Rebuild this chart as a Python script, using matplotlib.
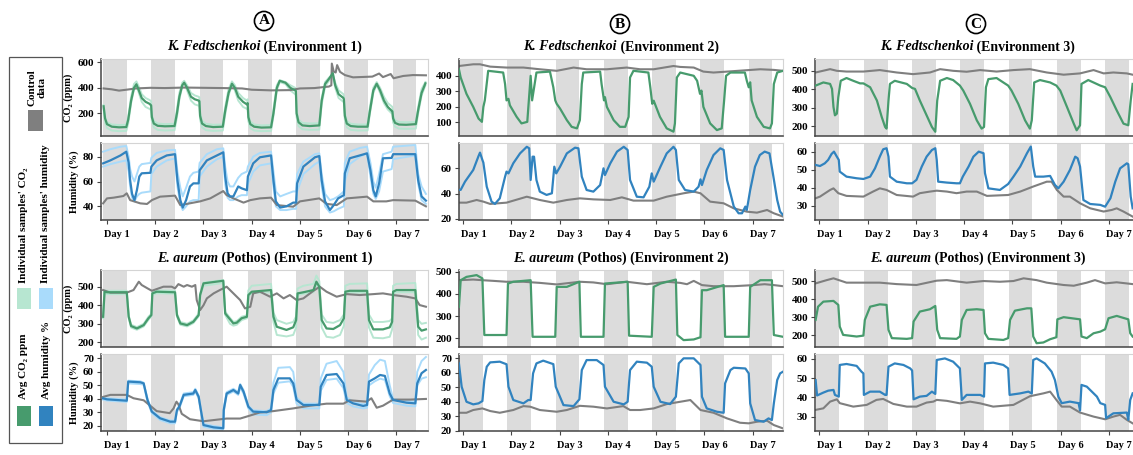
import matplotlib
matplotlib.use("Agg")
import matplotlib.pyplot as plt
import matplotlib.transforms as mtransforms
from matplotlib.patches import Rectangle

plt.rcParams['font.family'] = ['Liberation Serif', 'DejaVu Serif']
plt.rcParams['font.weight'] = 'bold'
plt.rcParams['axes.labelweight'] = 'bold'

GREEN = '#479b6d'
GREEN_LIGHT = '#b7e6d1'
BLUE = '#3183bf'
BLUE_LIGHT = '#a9dbfb'
GREY = '#7f7f7f'
BAND = '#dcdcdc'

day_labels = ['Day 1', 'Day 2', 'Day 3', 'Day 4', 'Day 5', 'Day 6', 'Day 7']

# ---------- K. Fedtschenkoi, environment 1 ----------
kf1_co2_t = [-0.07, -0.04, 0.0, 0.1, 0.25, 0.40, 0.44, 0.50, 0.56, 0.61, 0.66, 0.72, 0.80, 0.88, 0.915,
             0.93, 0.97, 1.05, 1.2, 1.40, 1.45, 1.50, 1.56, 1.60, 1.66, 1.74, 1.82, 1.90, 1.915,
             1.93, 1.97, 2.05, 2.2, 2.40, 2.45, 2.52, 2.59, 2.65, 2.72, 2.82, 2.90, 2.915,
             2.93, 2.97, 3.05, 3.2, 3.40, 3.45, 3.52, 3.58, 3.70, 3.80, 3.90, 3.915,
             3.93, 3.97, 4.05, 4.2, 4.40, 4.45, 4.52, 4.60, 4.68, 4.73, 4.80, 4.90, 4.91,
             4.93, 4.97, 5.05, 5.2, 5.40, 5.45, 5.52, 5.59, 5.66, 5.74, 5.82, 5.90, 5.915,
             5.93, 5.97, 6.05, 6.2, 6.40, 6.45, 6.52, 6.60]
kf1_co2_avg = [255, 160, 115, 95, 90, 92, 150, 300, 400, 428, 380, 320, 290, 275, 262,
               170, 120, 102, 98, 100, 200, 330, 420, 440, 400, 330, 310, 300, 295,
               180, 120, 100, 92, 95, 220, 360, 432, 400, 330, 290, 270, 280,
               170, 115, 95, 88, 90, 200, 400, 455, 440, 400, 380, 375,
               200, 130, 105, 100, 105, 300, 430, 470, 515, 420, 350, 320, 310,
               180, 120, 100, 95, 95, 220, 380, 432, 380, 300, 250, 220, 215,
               160, 125, 112, 110, 115, 226, 360, 435]
kf1_co2_s1 = [240, 130, 85, 65, 60, 62, 120, 280, 390, 420, 360, 290, 250, 235, 225,
              140, 90, 70, 65, 68, 170, 310, 410, 445, 380, 300, 270, 260, 255,
              150, 90, 68, 62, 65, 190, 340, 425, 380, 300, 250, 235, 240,
              140, 85, 65, 60, 62, 180, 380, 445, 430, 380, 350, 345,
              170, 100, 75, 70, 72, 270, 410, 455, 500, 400, 320, 290, 285,
              150, 90, 70, 65, 66, 200, 360, 425, 360, 280, 230, 200, 195,
              130, 95, 80, 78, 80, 200, 340, 420]
kf1_co2_s2 = [265, 175, 130, 112, 108, 110, 170, 330, 430, 450, 410, 350, 320, 305, 295,
              190, 140, 120, 115, 118, 230, 360, 440, 455, 420, 360, 340, 330, 325,
              200, 140, 118, 110, 112, 250, 390, 450, 420, 360, 320, 300, 310,
              190, 135, 112, 105, 108, 230, 420, 460, 445, 420, 400, 395,
              220, 150, 125, 120, 122, 320, 445, 480, 505, 440, 380, 350, 340,
              200, 140, 118, 112, 112, 250, 400, 445, 400, 330, 280, 255, 250,
              180, 145, 132, 130, 132, 250, 390, 445]
kf1_co2_ctrl_t = [-0.07, 0.1, 0.25, 0.4, 0.6, 0.9, 1.2, 1.6, 2.0, 2.4, 2.8, 3.0, 3.4, 3.8, 4.0, 4.3,
                  4.6, 4.65, 4.66, 4.70, 4.74, 4.77, 4.83, 4.93, 5.10, 5.50, 5.64, 5.72, 5.88, 5.94,
                  6.14, 6.34, 6.61]
kf1_co2_ctrl = [395, 388, 378, 385, 395, 400, 398, 402, 400, 398, 395, 385, 380, 382, 395, 398,
                410, 420, 590, 527, 520, 578, 525, 500, 482, 488, 512, 484, 508, 475,
                493, 500, 498]

kf1_hum_t = [-0.08, 0.07, 0.28, 0.40, 0.45, 0.48, 0.52, 0.57, 0.62, 0.67, 0.72, 0.90,
             0.92, 1.03, 1.24, 1.41, 1.46, 1.52, 1.57, 1.64, 1.72, 1.79, 1.90,
             1.92, 2.07, 2.28, 2.41, 2.45, 2.50, 2.55, 2.62, 2.72, 2.79, 2.90,
             2.92, 3.03, 3.17, 3.40, 3.45, 3.50, 3.59, 3.72, 3.86, 3.92,
             3.94, 4.07, 4.31, 4.40, 4.45, 4.52, 4.62, 4.70, 4.79, 4.91,
             4.93, 5.03, 5.24, 5.39, 5.46, 5.52, 5.57, 5.64, 5.72, 5.90,
             5.93, 6.39, 6.45, 6.52, 6.61]
kf1_hum_avg = [74.6, 77, 81, 84, 75, 61, 50, 45, 53, 64, 66.6, 67,
               72, 77, 81, 82, 61, 45, 39, 45, 56, 58.5, 58.5,
               69, 77, 81, 83.5, 64, 50.5, 48, 48, 56, 54.5, 53,
               64, 74.6, 79.5, 81, 61, 44, 39, 40, 43, 43,
               58.5, 72, 79.5, 80.5, 61, 44, 37, 41, 46.4, 49,
               66.6, 78.7, 81, 82.7, 69, 53, 48, 58.5, 78.7, 79,
               82, 82, 61, 48, 44.6]
kf1_hum_s1 = [84, 86, 88, 88.6, 80, 70, 64, 60, 66, 72, 74, 75,
              79, 83, 85, 85.5, 68, 55, 48, 55, 64, 67, 68,
              75, 82, 86, 86.7, 72, 60, 56, 56, 63, 66, 68,
              72, 80, 83, 84, 68, 52, 48, 50, 52, 52,
              66, 76, 82, 82.7, 66, 50, 45, 46, 48, 52,
              75, 84, 87, 88, 75, 60, 55, 66, 82, 84,
              88, 89.4, 66, 56, 50]
kf1_hum_s2 = [72, 74, 76, 77, 68, 56, 47, 44, 48, 50, 51, 52,
              66, 72, 77, 78.6, 56, 42, 37, 40, 44, 45, 45,
              64, 72, 78, 80, 58, 47, 45, 45, 48, 49, 49,
              58, 68, 73, 74.6, 56, 40, 37, 37, 38, 38,
              52, 66, 74, 76, 56, 40, 35, 36, 38, 40,
              60, 74, 80, 82.7, 64, 50, 46, 52, 68, 70,
              78, 81, 58, 45, 42]
kf1_hum_ctrl_t = [-0.08, 0.0, 0.14, 0.34, 0.41, 0.48, 0.69, 0.83, 0.93, 1.10, 1.41, 1.52, 1.66, 1.93,
                  2.14, 2.41, 2.48, 2.62, 2.83, 2.97, 3.17, 3.40, 3.52, 3.86, 4.0, 4.40, 4.55, 4.76,
                  4.97, 5.39, 5.52, 5.79, 5.93, 6.39, 6.61]
kf1_hum_ctrl = [42.4, 46.4, 47, 48.3, 50.5, 45, 42.4, 41.9, 45, 47.8, 48.6, 41, 42, 44,
                46.4, 52.3, 49, 46.4, 43, 45, 46.4, 47, 41, 39.7, 44, 46.4, 42, 41,
                46.4, 47.8, 44, 44, 45, 44.6, 40]

# ---------- E. aureum, environment 1 ----------
ea1_co2_t = [-0.08, -0.05, 0.0, 0.41, 0.45, 0.50, 0.62, 0.76, 0.86, 0.92,
             0.94, 1.03, 1.41, 1.45, 1.52, 1.66, 1.79, 1.90,
             1.93, 2.0, 2.41, 2.45, 2.55, 2.62, 2.69, 2.79, 2.90,
             2.93, 3.0, 3.40, 3.45, 3.52, 3.72, 3.86, 3.92,
             3.95, 4.07, 4.28, 4.34, 4.40, 4.45, 4.55, 4.69, 4.83, 4.91,
             4.94, 5.03, 5.39, 5.43, 5.52, 5.72, 5.86, 5.91,
             5.93, 6.0, 6.39, 6.45, 6.52, 6.61]
ea1_co2_avg = [338, 473, 470, 470, 338, 288, 275, 293, 330, 347,
               464, 473, 470, 347, 302, 293, 311, 347,
               455, 518, 532, 356, 324, 302, 306, 330, 338,
               455, 473, 482, 338, 284, 267, 281, 320,
               464, 470, 482, 527, 500, 320, 275, 272, 293, 330,
               473, 478, 478, 320, 270, 270, 281, 311,
               473, 482, 482, 284, 263, 270]
ea1_co2_s1 = [345, 480, 478, 478, 345, 295, 282, 300, 338, 355,
              470, 480, 478, 355, 310, 300, 318, 355,
              462, 522, 536, 365, 332, 310, 314, 338, 346,
              480, 505, 515, 360, 320, 300, 310, 340,
              490, 505, 515, 560, 530, 350, 310, 305, 320, 350,
              505, 515, 518, 350, 310, 310, 315, 330,
              505, 515, 520, 320, 300, 305]
ea1_co2_s2 = [330, 462, 460, 460, 330, 280, 268, 286, 322, 340,
              456, 465, 462, 340, 295, 286, 304, 340,
              448, 505, 520, 348, 300, 290, 295, 320, 330,
              448, 465, 470, 310, 240, 232, 240, 280,
              455, 462, 470, 515, 490, 280, 230, 225, 240, 290,
              462, 468, 468, 280, 225, 222, 230, 270,
              462, 470, 470, 240, 215, 225]
ea1_co2_ctrl_t = [-0.08, 0.07, 0.41, 0.55, 0.66, 0.72, 0.84, 0.93, 1.17, 1.34, 1.41, 1.48, 1.59,
                  1.66, 1.76, 1.83, 1.86, 1.93, 2.0, 2.07, 2.21, 2.34, 2.48, 2.62, 2.76, 2.86,
                  2.97, 3.03, 3.17, 3.38, 3.52, 3.66, 3.79, 3.93, 4.07, 4.28, 4.41, 4.55, 4.76,
                  4.97, 5.24, 5.52, 5.72, 5.93, 6.21, 6.39, 6.48, 6.61]
ea1_co2_ctrl = [482, 468, 468, 482, 527, 509, 491, 478, 500, 500, 491, 514, 500,
                509, 500, 509, 428, 374, 400, 437, 464, 482, 500, 464, 428, 383,
                392, 464, 473, 446, 464, 437, 455, 428, 437, 478, 500, 473, 446,
                460, 455, 460, 464, 455, 446, 437, 401, 392]

ea1_hum_t = [-0.08, 0.0, 0.41, 0.44, 0.69, 0.76, 0.84, 0.93, 1.10, 1.31, 1.41, 1.45, 1.50, 1.59,
             1.79, 1.83, 1.90, 1.94, 2.0, 2.21, 2.41, 2.42, 2.48, 2.62, 2.72, 2.76, 2.83, 2.93,
             3.03, 3.31, 3.40, 3.45, 3.55, 3.79, 3.86, 3.93, 4.07, 4.40, 4.43, 4.55, 4.76, 4.90,
             4.97, 5.10, 5.31, 5.39, 5.43, 5.55, 5.66, 5.76, 5.86, 5.93, 6.21, 6.39, 6.43, 6.52,
             6.61]
ea1_hum_avg = [40.4, 39.7, 38.7, 52.8, 52.3, 51.5, 39.2, 30.6, 25.7, 23.2, 23.2, 31.8, 34.3, 43,
               44, 46.6, 41.6, 33, 20.7, 19, 18.3, 31.8, 44, 46.6, 44, 50.3, 45.4, 34.3,
               30.6, 30.1, 31.8, 46.6, 55.2, 55.2, 51.5, 39.2, 35.5, 35.5, 49, 57.7, 58.4, 51.5,
               39.2, 36.7, 34.8, 35.5, 52.8, 55.2, 57.7, 57, 44, 39.2, 37.2, 36.7, 51.5, 59,
               61.4]
ea1_hum_s1 = [41, 40.5, 39.5, 53.5, 53, 52, 40, 31.5, 26.5, 24, 24, 32.5, 35, 44,
              45, 47.5, 42.5, 34, 21.5, 20, 19, 33, 45, 47.5, 45, 51, 46.5, 35,
              31.5, 31, 33, 52, 63, 63.5, 60, 41, 36.5, 36.5, 55, 66, 68, 60,
              41, 38, 36, 36.5, 58, 65, 69, 68, 50, 40, 38.5, 38, 60, 68,
              71]
ea1_hum_s2 = [39.5, 38.8, 37.8, 51.5, 51, 50.5, 38, 29.5, 24.5, 22, 22, 30.5, 33, 42,
              43, 45.5, 40.5, 32, 19.5, 18, 17.5, 30.5, 43, 45.5, 43, 48.5, 44, 33,
              28.5, 28, 30, 44, 52, 53, 49, 36.5, 33, 33, 46, 54, 55, 48,
              37, 34.5, 33, 33.5, 50, 53, 55, 54, 42, 37, 35, 34.5, 50, 55,
              56]
ea1_hum_ctrl_t = [-0.08, 0.07, 0.41, 0.55, 0.76, 0.93, 1.03, 1.30, 1.38, 1.44, 1.48, 1.55, 1.72,
                  2.0, 2.48, 2.76, 2.9, 3.17, 3.45, 3.86, 4.21, 4.55, 4.9, 5.03, 5.38, 5.48,
                  5.59, 5.72, 5.93, 6.28, 6.61]
ea1_hum_ctrl = [41.5, 43, 43, 40.5, 39, 34, 31, 29.5, 33, 38, 36, 29, 25,
                23.5, 25.5, 25.5, 27, 30, 31, 33, 35, 36.5, 36.5, 39, 38, 40.5,
                33.5, 35, 39.5, 39.5, 40]

# ---------- K. Fedtschenkoi, environment 2 ----------
kf2_co2_t = [-0.086, -0.05, 0.07, 0.21, 0.32, 0.39, 0.42, 0.45, 0.52, 0.83, 0.87, 0.90, 0.94, 0.97,
             1.11, 1.21, 1.33, 1.40, 1.43, 1.52,
             1.80, 1.87, 1.91, 1.94, 2.01, 2.15, 2.25, 2.36, 2.42, 2.46, 2.49,
             2.84, 2.87, 2.92, 2.94, 2.98, 3.12, 3.25, 3.36, 3.43, 3.46, 3.53,
             3.84, 3.88, 3.92, 3.95, 4.08, 4.22, 4.36, 4.39, 4.43, 4.50,
             4.78, 4.85, 4.91, 4.94, 4.98, 5.12, 5.26, 5.36, 5.41, 5.45, 5.54,
             5.84, 5.88, 5.92, 5.95, 5.98, 6.09, 6.23, 6.36, 6.40, 6.44, 6.51, 6.63]
kf2_co2_avg = [442, 389, 284, 200, 125, 104, 200, 242, 432, 421, 347, 242, 252, 210,
               136, 94, 104, 400, 242, 421,
               427, 326, 242, 220, 189, 115, 72, 62, 115, 347, 421,
               427, 347, 242, 263, 200, 115, 72, 72, 136, 389, 432,
               421, 326, 220, 240, 136, 62, 41, 94, 389, 421,
               400, 368, 284, 305, 200, 94, 51, 62, 242, 400, 421,
               421, 368, 326, 358, 242, 136, 72, 62, 94, 347, 421, 432]
kf2_co2_ctrl_t = [-0.086, 0.21, 0.35, 0.56, 0.90, 1.25, 1.59, 1.94, 2.29, 2.56, 2.98, 3.39,
                  3.67, 3.95, 4.36, 4.50, 4.78, 4.98, 5.19, 5.47, 5.88, 6.16, 6.44, 6.63]
kf2_co2_ctrl = [463, 474, 474, 459, 453, 453, 442, 432, 453, 442, 442, 453,
                442, 442, 463, 457, 453, 427, 421, 427, 436, 442, 438, 432]

kf2_hum_t = [-0.086, -0.05, 0.04, 0.21, 0.32, 0.35, 0.40, 0.42, 0.49, 0.59,
             0.66, 0.76, 0.87, 0.90, 0.94, 1.04, 1.18, 1.32, 1.37, 1.40,
             1.44, 1.47, 1.52, 1.59, 1.73, 1.84, 1.89, 1.93, 2.01, 2.15,
             2.32, 2.39, 2.46, 2.56, 2.70, 2.84, 2.91, 2.94, 3.05, 3.19,
             3.33, 3.41, 3.46, 3.60, 3.74, 3.86, 3.91, 3.95, 4.09, 4.22,
             4.36, 4.41, 4.47, 4.60, 4.78, 4.88, 4.92, 4.95, 5.05, 5.19,
             5.33, 5.40, 5.47, 5.61, 5.71, 5.78, 5.85, 5.88, 5.95, 6.05,
             6.15, 6.25, 6.35, 6.42, 6.51, 6.57, 6.63]
kf2_hum_avg = [43, 43, 49.5, 58.7, 69.7, 72.4, 66.6, 64.5, 45.5, 33.7,
               31.9, 36.3, 53.4, 57.4, 56, 64, 71.8, 77, 75.8, 50.8,
               69.2, 69.2, 50.8, 41.6, 39, 40.3, 61.3, 56, 61.3, 71.8,
               76.3, 75.8, 53.4, 42.9, 41.6, 46.8, 60, 54.7, 63.9, 73.2,
               77, 74.5, 50.8, 37.6, 37.1, 45.5, 56, 49.5, 61.3, 71.8,
               77, 74.5, 50.8, 42.9, 41.6, 45.5, 51.3, 46.8, 58.7, 70.5,
               75.8, 74.5, 50.8, 29.8, 24.5, 24.5, 29.8, 27.1, 42.9, 61.3,
               70.5, 73.2, 71.8, 56, 35, 25.8, 23.2]
kf2_hum_ctrl_t = [-0.086, 0.07, 0.28, 0.42, 0.56, 0.90, 1.32, 1.59, 1.87, 2.15, 2.42, 2.70, 3.05,
                  3.29, 3.53, 3.95, 4.22, 4.57, 4.78, 4.92, 5.12, 5.40, 5.61, 5.88, 6.09, 6.30,
                  6.44, 6.63]
kf2_hum_ctrl = [32.9, 32.9, 35, 33.7, 31.9, 32.9, 37.6, 35, 32.9, 35, 36.3, 35.5, 35,
                37.1, 34.5, 34.5, 37.6, 40.3, 41.6, 40.3, 33.7, 32.4, 28.4, 25.8, 25, 27.1,
                24.5, 21.9]

# ---------- E. aureum, environment 2 ----------
ea2_co2_t = [-0.086, -0.05, 0.07, 0.28, 0.40, 0.44, 0.56, 0.90, 0.93, 1.04, 1.40, 1.44, 1.91,
             1.94, 2.15, 2.41, 2.44, 2.91, 2.94, 3.41, 3.44, 3.91, 3.95, 4.09, 4.41, 4.44, 4.57,
             4.78, 4.92, 4.95, 5.05, 5.40, 5.43, 5.92, 5.95, 6.16, 6.40, 6.44, 6.63]
ea2_co2_avg = [342, 462, 477, 485, 470, 215, 215, 215, 447, 455, 462, 207, 207,
               432, 432, 455, 207, 207, 447, 455, 212, 207, 432, 447, 465, 215, 192,
               195, 205, 417, 417, 440, 207, 207, 432, 462, 462, 215, 207]
ea2_co2_ctrl_t = [-0.086, 0.21, 0.40, 0.63, 0.90, 1.25, 1.59, 1.94, 2.42, 2.70, 2.98, 3.39,
                  3.81, 4.22, 4.50, 4.64, 4.78, 4.95, 5.19, 5.61, 6.02, 6.25, 6.44, 6.63]
ea2_co2_ctrl = [462, 465, 462, 459, 455, 455, 450, 443, 455, 452, 444, 455,
                444, 455, 450, 444, 459, 440, 435, 435, 440, 444, 440, 435]

ea2_hum_t = [-0.086, -0.03, 0.07, 0.21, 0.32, 0.40, 0.44, 0.49, 0.56, 0.76,
             0.90, 0.94, 1.04, 1.25, 1.35, 1.40, 1.45, 1.52, 1.66, 1.87,
             1.92, 2.08, 2.29, 2.41, 2.46, 2.56, 2.77, 2.91, 2.94, 3.12,
             3.33, 3.41, 3.46, 3.60, 3.81, 3.91, 3.95, 4.09, 4.29, 4.41,
             4.47, 4.57, 4.78, 4.92, 4.95, 5.05, 5.26, 5.40, 5.43, 5.54,
             5.61, 5.85, 5.92, 5.95, 6.05, 6.23, 6.33, 6.40, 6.44, 6.51,
             6.57, 6.63]
ea2_hum_avg = [66.5, 50.4, 40, 38.2, 38.9, 40.5, 55, 64.2, 67.2, 67.7,
               65.9, 50.4, 41.2, 38.9, 41.2, 41.2, 59.6, 66.5, 68.4, 66,
               50.4, 37.7, 37, 41.7, 61.9, 68.8, 68.8, 65.4, 50.4, 40,
               38.2, 40, 61.9, 67.7, 67, 64.2, 50.4, 40, 38.4, 43.5,
               66.5, 70, 70, 65.4, 43.5, 35.4, 33.1, 32.4, 52.7, 61.9,
               63.5, 63, 59.6, 38.9, 27.4, 26.2, 28.5, 27.4, 38.9, 55,
               59.6, 60.8]
ea2_hum_ctrl_t = [-0.086, 0.07, 0.21, 0.40, 0.56, 0.76, 1.04, 1.25, 1.39, 1.59, 1.94, 2.15, 2.42,
                  2.70, 2.98, 3.32, 3.46, 3.67, 3.95, 4.22, 4.50, 4.71, 4.92, 5.19, 5.47, 5.74,
                  5.92, 6.09, 6.30, 6.44, 6.63]
ea2_hum_ctrl = [32.4, 32.4, 34.3, 35.4, 33.6, 32.4, 34.3, 37, 36.6, 34.3, 33.1, 34.3, 37.2,
                36.6, 35.4, 37, 34.3, 34.3, 35.4, 38.4, 40, 41.2, 34.3, 32.4, 28.5, 25.5,
                25.1, 26.2, 26.9, 23.9, 21.6]

# ---------- K. Fedtschenkoi, environment 3 ----------
kf3_co2_t = [-0.08, 0.08, 0.22, 0.26, 0.29, 0.32, 0.36, 0.39, 0.44, 0.56,
             0.70, 0.84, 0.91, 1.05, 1.19, 1.29, 1.36, 1.39, 1.43, 1.46,
             1.56, 1.81, 1.92, 1.98, 2.08, 2.22, 2.33, 2.40, 2.44, 2.50,
             2.64, 2.77, 2.91, 2.98, 3.12, 3.26, 3.36, 3.41, 3.45, 3.50,
             3.67, 3.81, 3.91, 3.98, 4.12, 4.26, 4.36, 4.40, 4.45, 4.57,
             4.78, 4.91, 4.99, 5.13, 5.27, 5.33, 5.40, 5.43, 5.57, 5.82,
             5.92, 6.03, 6.16, 6.30, 6.40, 6.45, 6.49]
kf3_co2_avg = [420, 437, 429, 402, 304, 259, 268, 357, 446, 461,
               446, 432, 432, 411, 339, 250, 196, 187, 339, 429,
               446, 429, 407, 402, 339, 259, 196, 170, 339, 446,
               461, 450, 420, 393, 321, 232, 187, 196, 411, 455,
               461, 437, 420, 393, 321, 232, 187, 232, 437, 450,
               437, 420, 393, 304, 214, 178, 205, 429, 450, 420,
               411, 357, 286, 214, 205, 339, 429]
kf3_co2_ctrl_t = [-0.08, 0.22, 0.36, 0.56, 0.91, 1.25, 1.60, 1.94, 2.29, 2.50, 2.77, 3.05,
                  3.33, 3.67, 4.02, 4.36, 4.71, 5.06, 5.40, 5.68, 5.89, 6.09, 6.37, 6.49]
kf3_co2_ctrl = [491, 509, 500, 496, 496, 504, 491, 482, 491, 509, 500, 495,
                504, 496, 504, 509, 491, 479, 486, 504, 486, 491, 486, 479]

kf3_hum_t = [-0.08, 0.01, 0.11, 0.18, 0.25, 0.30, 0.36, 0.40, 0.42, 0.56,
             0.77, 0.91, 1.05, 1.15, 1.25, 1.32, 1.39, 1.43, 1.46, 1.60,
             1.81, 1.92, 2.01, 2.12, 2.22, 2.33, 2.40, 2.43, 2.46, 2.64,
             2.84, 2.91, 2.97, 3.09, 3.19, 3.30, 3.40, 3.43, 3.50, 3.74,
             3.91, 4.02, 4.16, 4.30, 4.38, 4.43, 4.47, 4.64, 4.78, 4.88,
             4.95, 5.06, 5.19, 5.30, 5.35, 5.40, 5.47, 5.61, 5.82, 5.92,
             6.03, 6.13, 6.23, 6.37, 6.40, 6.45, 6.49]
kf3_hum_avg = [52.6, 52, 53.5, 55.4, 58.7, 60, 57.2, 55.4, 48.9, 46.1,
               45.2, 44.8, 46.1, 50.7, 57.2, 61.3, 61.9, 57.2, 46.1, 43.3,
               42.4, 42.4, 44.3, 51.7, 57.2, 60.9, 61.9, 55.4, 43.3, 42.8,
               42.4, 42.4, 46.1, 51.7, 57.2, 60, 59.1, 48, 39.6, 38.7,
               42, 46.1, 51.7, 59.1, 62.8, 51.7, 46.1, 46.1, 46.5, 41.5,
               39.6, 43.3, 49.8, 57.2, 56.3, 51.7, 33.1, 30.9, 30.4, 29.4,
               34.1, 43.3, 50.7, 53.5, 53, 35, 28.5]
kf3_hum_ctrl_t = [-0.08, 0.01, 0.22, 0.29, 0.39, 0.56, 0.91, 1.11, 1.25, 1.39, 1.60, 1.94, 2.08,
                  2.29, 2.43, 2.64, 2.84, 3.05, 3.26, 3.47, 3.91, 4.16, 4.43, 4.71, 4.81, 4.92,
                  5.06, 5.19, 5.40, 5.61, 5.89, 6.06, 6.16, 6.30, 6.49]
kf3_hum_ctrl = [34.1, 35, 38.7, 39.6, 36.9, 35.4, 35, 37.8, 39.6, 38.7, 35.9, 35, 36.9,
                37.8, 38.3, 37.8, 36.9, 37.8, 37.8, 35.4, 35.9, 37.8, 40.6, 43.3, 43.3, 38.7,
                35, 35, 31.3, 28.5, 26.7, 27.6, 28.5, 26.7, 23.9]

# ---------- E. aureum, environment 3 ----------
ea3_co2_t = [-0.08, -0.03, 0.08, 0.29, 0.39, 0.42, 0.49, 0.77, 0.91, 0.94,
             1.05, 1.25, 1.39, 1.43, 1.50, 1.81, 1.92, 1.95, 2.08, 2.29,
             2.40, 2.44, 2.50, 2.84, 2.91, 2.95, 3.05, 3.26, 3.40, 3.43,
             3.50, 3.81, 3.91, 3.95, 4.05, 4.30, 4.39, 4.43, 4.50, 4.64,
             4.78, 4.91, 4.93, 5.06, 5.40, 5.43, 5.54, 5.68, 5.82, 5.92,
             5.99, 6.16, 6.40, 6.44, 6.49]
ea3_co2_avg = [285, 358, 386, 390, 368, 248, 202, 193, 198, 285,
               358, 371, 368, 230, 184, 180, 184, 276, 331, 344,
               362, 230, 184, 180, 193, 285, 340, 344, 340, 211,
               180, 174, 184, 285, 336, 349, 349, 193, 156, 160,
               178, 189, 288, 300, 288, 193, 184, 211, 220, 233,
               294, 307, 288, 211, 193]
ea3_co2_ctrl_t = [-0.08, 0.15, 0.29, 0.56, 0.91, 1.25, 1.60, 2.01, 2.43, 2.64, 3.05, 3.40,
                  3.74, 4.02, 4.23, 4.50, 4.71, 5.06, 5.27, 5.54, 5.71, 5.92, 6.16, 6.49]
ea3_co2_ctrl = [487, 505, 515, 491, 491, 491, 483, 478, 502, 505, 491, 500,
                496, 500, 515, 505, 491, 478, 474, 491, 505, 487, 493, 483]

ea3_hum_t = [-0.08, -0.05, 0.08, 0.18, 0.29, 0.32, 0.40, 0.42, 0.56, 0.77,
             0.87, 0.91, 0.92, 1.05, 1.25, 1.36, 1.39, 1.43, 1.56, 1.74,
             1.88, 1.92, 1.95, 2.08, 2.22, 2.33, 2.40, 2.43, 2.60, 2.77,
             2.91, 2.95, 3.05, 3.33, 3.41, 3.43, 3.60, 3.81, 3.91, 3.94,
             4.16, 4.33, 4.40, 4.43, 4.50, 4.67, 4.81, 4.88, 4.95, 5.02,
             5.19, 5.37, 5.40, 5.43, 5.54, 5.75, 5.82, 5.92, 5.94, 6.09,
             6.37, 6.40, 6.44, 6.49]
ea3_hum_avg = [49, 41, 42.5, 43.5, 43.9, 41.3, 40.4, 56.9, 57.4, 56.4,
               53.4, 52.5, 41.3, 43, 43, 41.3, 41.3, 56, 57.7, 56.9,
               55.1, 54, 39, 40.4, 40.8, 43, 41.8, 59.5, 60.3, 58.6,
               55.1, 38.7, 41.3, 41.3, 40.4, 57.7, 58.1, 56.9, 55.1, 41.3,
               42.1, 43, 42, 59.5, 60.3, 57.7, 53.4, 49, 40.4, 37,
               37.8, 37, 33.2, 46.5, 45.6, 40.4, 37, 36.1, 29.2, 31.7,
               32.1, 28.3, 38.7, 42.1]
ea3_hum_ctrl_t = [-0.08, 0.08, 0.22, 0.36, 0.42, 0.70, 0.98, 1.18, 1.32, 1.53, 1.81, 2.01, 2.22,
                  2.36, 2.43, 2.64, 2.91, 3.12, 3.33, 3.60, 4.02, 4.36, 4.64, 4.78, 4.91, 5.02,
                  5.19, 5.40, 5.68, 5.92, 6.09, 6.23, 6.37, 6.49]
ea3_hum_ctrl = [33.5, 34.3, 37.8, 39, 37, 35.2, 36.1, 38.7, 39.2, 36.6, 35.2, 35.2, 37.3,
                37.8, 38.7, 38.2, 36.9, 37.8, 36.9, 35.2, 36.1, 40.6, 42.1, 43, 38.7, 35.2,
                35.2, 32.1, 30, 28.6, 30, 30.9, 28.3, 26.5]

# ---------------------------------------------------------------
W, H = 1133, 455
fig = plt.figure(figsize=(W / 100, H / 100), dpi=100)
renderer = fig.canvas.get_renderer()
label_shift = mtransforms.ScaledTranslation(-0.025, 0, fig.dpi_scale_trans)

cols = [(101, 428, -0.124), (459, 783, -0.085), (815, 1140, -0.093)]
rows = [(59, 136), (143, 220), (270, 347), (354, 431)]


def make_ax(col, row, ylim, yticks, bottom):
    x0, x1, xmin = cols[col]
    yt, yb = rows[row]
    ax = fig.add_axes([x0 / W, 1 - yb / H, (x1 - x0) / W, (yb - yt) / H])
    ax.set_xlim(xmin, xmin + (x1 - x0) / 48.25)
    ax.set_ylim(ylim)
    for k in range(7):
        ax.axvspan(k - 0.08, k + 0.41, color=BAND, lw=0, zorder=0)
    for s in ['top', 'right']:
        ax.spines[s].set_color('#d4d4d4')
        ax.spines[s].set_linewidth(0.8)
    for s in ['left', 'bottom']:
        ax.spines[s].set_color('#444444')
        ax.spines[s].set_linewidth(1.1)
    ax.set_yticks(yticks)
    ax.tick_params(axis='y', length=3, width=0.8, pad=2, labelsize=8, color='#444444')
    if bottom:
        ax.set_xticks(range(7))
        ax.set_xticklabels(day_labels, ha='left')
        ax.tick_params(axis='x', length=3, width=0.8, pad=4, labelsize=7.5, color='#444444')
        for lbl in ax.get_xticklabels():
            lbl.set_transform(lbl.get_transform() + label_shift)
    else:
        ax.set_xticks([])
    return ax


def mixed_title(col, y_px, ital, rest):
    x0, x1, _ = cols[col]
    xc = (x0 + x1) / 2 / W
    y = 1 - y_px / H
    t1 = fig.text(0, y, ital, style='italic', weight='bold', size=10, va='center')
    t2 = fig.text(0, y, rest, weight='bold', size=10, va='center')
    w1 = t1.get_window_extent(renderer).width / W
    w2 = t2.get_window_extent(renderer).width / W
    left = xc - (w1 + w2) / 2
    t1.set_x(left)
    t2.set_x(left + w1)


panels = [
    # col, top row, plant, env, co2 data, hum data, limits
    (0, 0, 'K. Fedtschenkoi', '1',
     (kf1_co2_t, kf1_co2_avg, [kf1_co2_s1, kf1_co2_s2], kf1_co2_ctrl_t, kf1_co2_ctrl),
     (kf1_hum_t, kf1_hum_avg, [kf1_hum_s1, kf1_hum_s2], kf1_hum_ctrl_t, kf1_hum_ctrl),
     (22, 626), [200, 400, 600], (29, 91), [40, 60, 80]),
    (0, 2, 'E. aureum', '1',
     (ea1_co2_t, ea1_co2_avg, [ea1_co2_s1, ea1_co2_s2], ea1_co2_ctrl_t, ea1_co2_ctrl),
     (ea1_hum_t, ea1_hum_avg, [ea1_hum_s1, ea1_hum_s2], ea1_hum_ctrl_t, ea1_hum_ctrl),
     (175, 590), [200, 300, 400, 500], (16.3, 73.2), [20, 30, 40, 50, 60, 70]),
    (1, 0, 'K. Fedtschenkoi', '2',
     (kf2_co2_t, kf2_co2_avg, [], kf2_co2_ctrl_t, kf2_co2_ctrl),
     (kf2_hum_t, kf2_hum_avg, [], kf2_hum_ctrl_t, kf2_hum_ctrl),
     (13, 508), [100, 200, 300, 400], (19.2, 80), [20, 40, 60]),
    (1, 2, 'E. aureum', '2',
     (ea2_co2_t, ea2_co2_avg, [], ea2_co2_ctrl_t, ea2_co2_ctrl),
     (ea2_hum_t, ea2_hum_avg, [], ea2_hum_ctrl_t, ea2_hum_ctrl),
     (161, 508), [200, 300, 400, 500], (19.8, 73), [20, 30, 40, 50, 60, 70]),
    (2, 0, 'K. Fedtschenkoi', '3',
     (kf3_co2_t, kf3_co2_avg, [], kf3_co2_ctrl_t, kf3_co2_ctrl),
     (kf3_hum_t, kf3_hum_avg, [], kf3_hum_ctrl_t, kf3_hum_ctrl),
     (147, 564), [200, 300, 400, 500], (22, 64.8), [30, 40, 50, 60]),
    (2, 2, 'E. aureum', '3',
     (ea3_co2_t, ea3_co2_avg, [], ea3_co2_ctrl_t, ea3_co2_ctrl),
     (ea3_hum_t, ea3_hum_avg, [], ea3_hum_ctrl_t, ea3_hum_ctrl),
     (135, 561), [200, 300, 400, 500], (22.5, 62.6), [30, 40, 50, 60]),
]

for col, row, plant, env, co2, hum, co2_lim, co2_ticks, hum_lim, hum_ticks in panels:
    ax1 = make_ax(col, row, co2_lim, co2_ticks, False)
    t, avg, samples, ct, cv = co2
    for s in samples:
        ax1.plot(t, s, color=GREEN_LIGHT, lw=1.4, zorder=2)
    ax1.plot(ct, cv, color=GREY, lw=1.5, zorder=2.5)
    ax1.plot(t, avg, color=GREEN, lw=1.6, zorder=3)

    ax2 = make_ax(col, row + 1, hum_lim, hum_ticks, True)
    t, avg, samples, ct, cv = hum
    for s in samples:
        ax2.plot(t, s, color=BLUE_LIGHT, lw=1.4, zorder=2)
    ax2.plot(ct, cv, color=GREY, lw=1.5, zorder=2.5)
    ax2.plot(t, avg, color=BLUE, lw=1.6, zorder=3)

    if col == 0:
        ax1.set_ylabel('CO₂ (ppm)', size=7.5, labelpad=3)
        ax2.set_ylabel('Humidity (%)', size=7.5, labelpad=3)

    title_y = 47 if row == 0 else 258
    rest = ' (Environment %s)' % env if plant.startswith('K') else ' (Pothos) (Environment %s)' % env
    mixed_title(col, title_y, plant, rest)

# circled panel letters
for letter, xp, yp in [('A', 264, 21), ('B', 620, 24), ('C', 976, 24)]:
    fig.text(xp / W, 1 - yp / H, letter, ha='center', va='center', size=11, weight='bold',
             bbox=dict(boxstyle='circle,pad=0.2', fc='white', ec='black', lw=1.2))

# legend on the left (rotated)
def rect_px(x0, y0, x1, y1, fc, ec='none', lw=0):
    fig.patches.append(Rectangle((x0 / W, 1 - y1 / H), (x1 - x0) / W, (y1 - y0) / H,
                                 transform=fig.transFigure, fc=fc, ec=ec, lw=lw))

rect_px(9, 57, 62, 443, 'white', ec='#555555', lw=0.9)
rect_px(17, 406, 31, 426, GREEN)
rect_px(39, 406, 53, 426, BLUE)
rect_px(17, 288, 31, 309, GREEN_LIGHT)
rect_px(39, 288, 53, 309, BLUE_LIGHT)
rect_px(28, 110, 43, 131, GREY)

leg_txt = [('Avg CO₂ ppm', 24, 399), ('Avg humidity %', 46, 399),
           ("Individual samples' CO₂", 24, 283), ("Individual samples' humidity", 46, 283)]
for txt, xp, yp in leg_txt:
    fig.text(xp / W, 1 - yp / H, txt, rotation=90, ha='center', va='bottom', size=8)
fig.text(37 / W, 1 - 88 / H, 'Control\ndata', rotation=90, ha='center', va='center',
         size=8, multialignment='center', linespacing=1.1)

fig.savefig('out.png', dpi=100)
